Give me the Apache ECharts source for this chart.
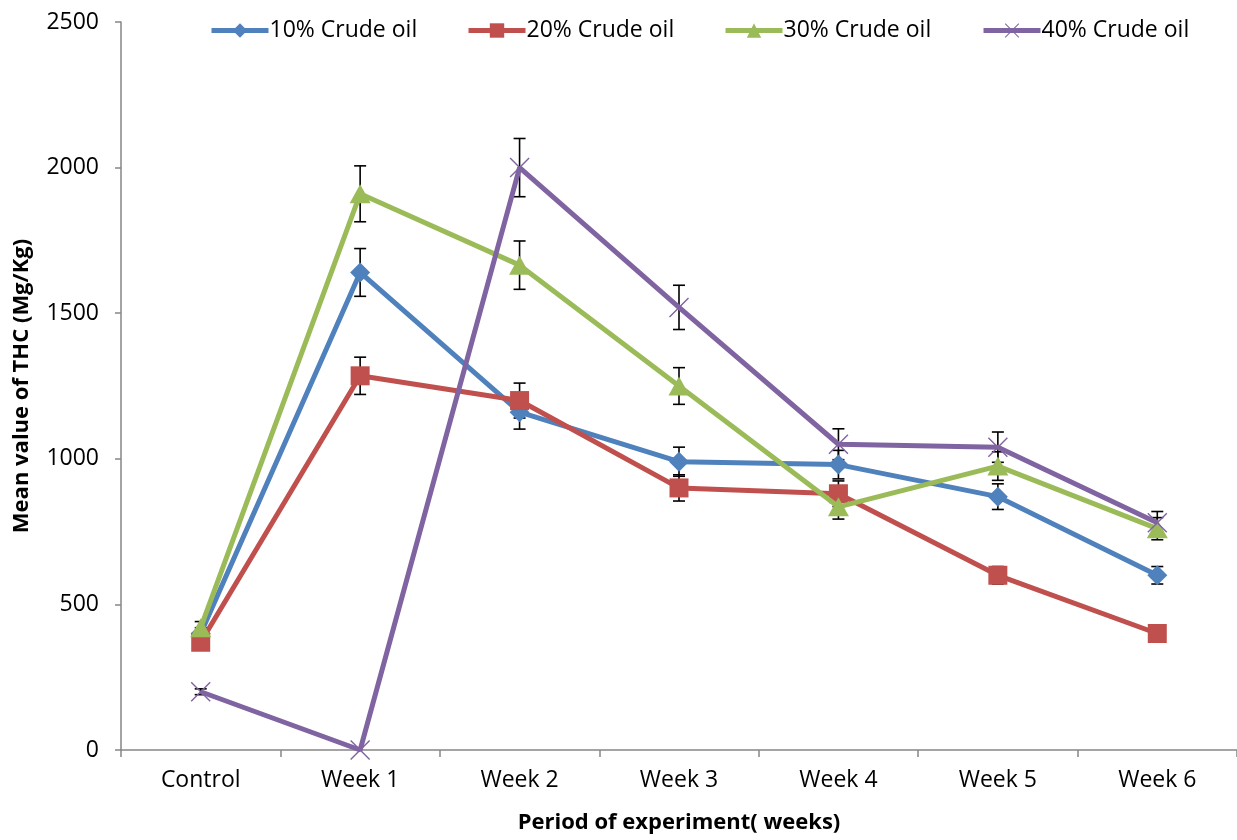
<!DOCTYPE html>
<html>
<head>
<meta charset="utf-8">
<script src="https://cdn.jsdelivr.net/npm/echarts@6/dist/echarts.min.js"></script>
<style>
  html, body { margin: 0; padding: 0; background: #fff; }
  #chart { width: 1237px; height: 840px; }
</style>
</head>
<body>
<div id="chart"></div>
<script>
// Period labels along the x axis
const categories = ['Control', 'Week 1', 'Week 2', 'Week 3', 'Week 4', 'Week 5', 'Week 6'];

// Mean THC (Mg/Kg) for each crude-oil level
const oil10 = [400, 1640, 1160, 990, 980, 870, 600];
const oil20 = [370, 1285, 1200, 900, 880, 600, 400];
const oil30 = [420, 1910, 1665, 1250, 835, 975, 760];
const oil40 = [200, 0, 2000, 1520, 1050, 1040, 780];

// Error-bar half lengths for each level
const err10 = [20, 82, 58, 50, 49, 44, 30];
const err20 = [19, 64, 60, 45, 44, 30, 20];
const err30 = [21, 96, 83, 63, 42, 49, 38];
const err40 = [10, 0, 100, 76, 53, 52, 39];

const seriesNames = ['10% Crude oil', '20% Crude oil', '30% Crude oil', '40% Crude oil'];
const yTicks = [0, 500, 1000, 1500, 2000, 2500];

const FONT = 'Open Sans';
const colors = ['#4F81BD', '#C0504D', '#9BBB59', '#8064A2'];
const crossPath = 'path://M1,0L10,9L19,0L20,1L11,10L20,19L19,20L10,11L1,20L0,19L9,10L0,1Z';
const symbols = ['diamond', 'rect', 'triangle', crossPath];
const symbolSizes = [[20, 20], [19, 19], [21, 19], [20, 20]];

const valueSets = [oil10, oil20, oil30, oil40];
const errSets = [err10, err20, err30, err40];

function errorData(vals, errs) {
  const out = [];
  vals.forEach((v, i) => {
    if (errs[i] > 0) out.push([i, v - errs[i], v + errs[i]]);
  });
  return out;
}

function renderErrorBar(params, api) {
  const hi = api.coord([api.value(0), api.value(2)]);
  const lo = api.coord([api.value(0), api.value(1)]);
  const cap = 6;
  const style = { stroke: '#000', lineWidth: 1.6 };
  return {
    type: 'group',
    children: [
      { type: 'line', shape: { x1: hi[0], y1: hi[1], x2: lo[0], y2: lo[1] }, style },
      { type: 'line', shape: { x1: hi[0] - cap, y1: hi[1], x2: hi[0] + cap, y2: hi[1] }, style },
      { type: 'line', shape: { x1: lo[0] - cap, y1: lo[1], x2: lo[0] + cap, y2: lo[1] }, style }
    ]
  };
}

const series = [];
valueSets.forEach((vals, k) => {
  series.push({
    type: 'custom',
    name: seriesNames[k] + ' error',
    renderItem: renderErrorBar,
    data: errorData(vals, errSets[k]),
    encode: { x: 0, y: [1, 2] },
    z: 1,
    silent: true
  });
});
valueSets.forEach((vals, k) => {
  series.push({
    type: 'line',
    name: seriesNames[k],
    data: vals,
    symbol: symbols[k],
    symbolSize: symbolSizes[k],
    color: colors[k],
    lineStyle: { width: 5, color: colors[k] },
    itemStyle: { color: colors[k], opacity: 1 },
    z: 2 + k,
    animation: false
  });
});

const legendLefts = [204, 461, 718, 976];
const legends = seriesNames.map((n, k) => ({
  data: [n],
  left: legendLefts[k],
  top: 14,
  itemWidth: 57,
  itemHeight: 18,
  itemGap: 0,
  lineStyle: { width: 5 },
  textStyle: { fontFamily: FONT, fontSize: 23, color: '#000', padding: [0, 0, 0, -4] }
}));

const chart = echarts.init(document.getElementById('chart'), null, { renderer: 'canvas' });
chart.setOption({
  animation: false,
  backgroundColor: '#fff',
  legend: legends,
  grid: { left: 121, right: 0, top: 22, bottom: 90, containLabel: false },
  xAxis: {
    type: 'category',
    data: categories,
    boundaryGap: true,
    name: 'Period of experiment( weeks)',
    nameLocation: 'middle',
    nameGap: 62,
    nameTextStyle: { fontFamily: FONT, fontSize: 22, fontWeight: 'bold', color: '#000' },
    axisLine: { lineStyle: { color: '#868686', width: 1.5 } },
    axisTick: { show: true, length: 7, lineStyle: { color: '#868686', width: 1.5 } },
    axisLabel: { fontFamily: FONT, fontSize: 23, color: '#000', margin: 19 },
    splitLine: { show: false }
  },
  yAxis: {
    type: 'value',
    min: yTicks[0],
    max: yTicks[yTicks.length - 1],
    interval: yTicks[1] - yTicks[0],
    name: 'Mean value of THC (Mg/Kg)',
    nameLocation: 'middle',
    nameGap: 99,
    nameRotate: 90,
    nameTextStyle: { fontFamily: FONT, fontSize: 22, fontWeight: 'bold', color: '#000', verticalAlign: 'middle' },
    axisLine: { show: true, lineStyle: { color: '#868686', width: 1.5 } },
    axisTick: { show: true, length: 6, inside: false, lineStyle: { color: '#868686', width: 1.5 } },
    axisLabel: { fontFamily: FONT, fontSize: 23, color: '#000', margin: 22, formatter: v => String(v) },
    splitLine: { show: false }
  },
  series
});
</script>
</body>
</html>
